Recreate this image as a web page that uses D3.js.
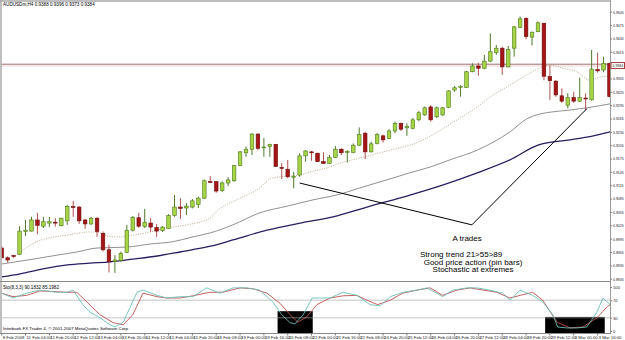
<!DOCTYPE html>
<html><head><meta charset="utf-8">
<script src="https://cdnjs.cloudflare.com/ajax/libs/d3/7.8.5/d3.min.js"></script>
<style>body{margin:0;background:#fff;} svg{display:block;font-family:"Liberation Sans",Arial,sans-serif;}</style>
</head><body><svg id="c" width="625" height="340"></svg>
<script>
// ---------- DATA ----------
const opens  = [0.8974,0.8952,0.8957,0.8960,0.9011,0.9012,0.9037,0.9023,0.9030,0.9032,0.9024,0.9035,0.9067,0.9066,0.9037,0.9028,0.9041,0.9007,0.8970,0.8944,0.8946,0.8964,0.9014,0.9042,0.9022,0.9030,0.9020,0.9013,0.9018,0.9047,0.9066,0.9064,0.9066,0.9072,0.9086,0.9123,0.9123,0.9103,0.9120,0.9125,0.9159,0.9188,0.9196,0.9230,0.9199,0.9202,0.9207,0.9155,0.9151,0.9133,0.9138,0.9181,0.9190,0.9187,0.9168,0.9164,0.9177,0.9196,0.9189,0.9189,0.9205,0.9232,0.9190,0.9209,0.9226,0.9220,0.9237,0.9254,0.9244,0.9243,0.9262,0.9273,0.9291,0.9269,0.9273,0.9290,0.9329,0.9335,0.9335,0.9370,0.9383,0.9378,0.9394,0.9413,0.9423,0.9381,0.9423,0.9470,0.9490,0.9448,0.9460,0.9479,0.9359,0.9349,0.9316,0.9295,0.9312,0.9304,0.9311,0.9307,0.9375,0.9374,0.9389];
const highs  = [0.8979,0.8955,0.8959,0.9023,0.9037,0.9044,0.9053,0.9044,0.9044,0.9041,0.9042,0.9071,0.9080,0.9068,0.9039,0.9044,0.9043,0.9011,0.8981,0.8958,0.8966,0.9026,0.9046,0.9053,0.9062,0.9041,0.9028,0.9023,0.9050,0.9093,0.9086,0.9075,0.9084,0.9089,0.9128,0.9136,0.9124,0.9124,0.9133,0.9160,0.9192,0.9202,0.9232,0.9232,0.9221,0.9208,0.9208,0.9165,0.9172,0.9145,0.9187,0.9194,0.9192,0.9188,0.9189,0.9183,0.9203,0.9198,0.9194,0.9209,0.9245,0.9235,0.9213,0.9232,0.9229,0.9241,0.9258,0.9256,0.9254,0.9266,0.9282,0.9292,0.9295,0.9292,0.9291,0.9329,0.9338,0.9340,0.9372,0.9389,0.9390,0.9408,0.9456,0.9430,0.9426,0.9428,0.9473,0.9494,0.9492,0.9460,0.9483,0.9480,0.9384,0.9351,0.9333,0.9322,0.9325,0.9357,0.9322,0.9419,0.9413,0.9404,0.9390];
const lows   = [0.8947,0.8941,0.8952,0.8958,0.9001,0.9011,0.9005,0.9019,0.9021,0.9022,0.9023,0.9026,0.9044,0.9028,0.9017,0.9026,0.8999,0.8966,0.8919,0.8918,0.8943,0.8963,0.9011,0.9019,0.9019,0.9010,0.8999,0.9010,0.9018,0.9044,0.9039,0.9048,0.9063,0.9064,0.9084,0.9120,0.9098,0.9100,0.9113,0.9123,0.9158,0.9179,0.9183,0.9194,0.9179,0.9179,0.9156,0.9129,0.9131,0.9108,0.9134,0.9168,0.9170,0.9167,0.9163,0.9163,0.9176,0.9183,0.9166,0.9187,0.9203,0.9174,0.9189,0.9207,0.9211,0.9219,0.9232,0.9237,0.9226,0.9241,0.9259,0.9271,0.9258,0.9266,0.9271,0.9289,0.9325,0.9314,0.9334,0.9369,0.9361,0.9376,0.9392,0.9408,0.9363,0.9380,0.9404,0.9468,0.9443,0.9429,0.9459,0.9351,0.9307,0.9314,0.9300,0.9288,0.9300,0.9302,0.9284,0.9305,0.9368,0.9369,0.9313];
const closes = [0.8952,0.8947,0.8955,0.9012,0.9014,0.9037,0.9025,0.9033,0.9033,0.9030,0.9041,0.9067,0.9065,0.9035,0.9028,0.9041,0.9011,0.8970,0.8943,0.8947,0.8962,0.9014,0.9043,0.9023,0.9032,0.9021,0.9012,0.9021,0.9047,0.9066,0.9063,0.9068,0.9080,0.9086,0.9125,0.9122,0.9102,0.9120,0.9127,0.9159,0.9190,0.9196,0.9230,0.9198,0.9201,0.9207,0.9157,0.9153,0.9134,0.9135,0.9181,0.9192,0.9188,0.9168,0.9164,0.9177,0.9196,0.9188,0.9191,0.9205,0.9229,0.9190,0.9208,0.9229,0.9217,0.9237,0.9254,0.9241,0.9247,0.9262,0.9278,0.9289,0.9262,0.9289,0.9289,0.9327,0.9334,0.9337,0.9370,0.9383,0.9378,0.9394,0.9415,0.9423,0.9381,0.9420,0.9471,0.9489,0.9449,0.9459,0.9480,0.9360,0.9350,0.9318,0.9304,0.9312,0.9304,0.9312,0.9309,0.9376,0.9372,0.9389,0.9314];

// moving averages: [bar index, price]
const ma21 = [[1.9,0.8952],[5.9,0.8988],[11.0,0.9003],[14.8,0.9010],[16.5,0.9008],[18.2,0.8999],[19.8,0.8999],[22.0,0.9003],[24.9,0.9010],[27.7,0.9019],[31.1,0.9026],[34.9,0.9041],[36.6,0.9062],[40.0,0.9086],[43.3,0.9109],[45.0,0.9129],[46.7,0.9134],[50.0,0.9138],[51.7,0.9145],[54.6,0.9154],[56.8,0.9165],[60.1,0.9176],[63.5,0.9188],[66.8,0.9199],[68.5,0.9205],[76.9,0.9266],[79.8,0.9291],[81.9,0.9313],[85.3,0.9340],[88.1,0.9363],[90.8,0.9381],[92.0,0.9385],[94.2,0.9378],[96.5,0.9370],[98.7,0.9351],[100.4,0.9358],[102.1,0.9360]];
const ma55 = [[0,0.8938],[5.3,0.8949],[9.3,0.8958],[12.6,0.8965],[16.0,0.8974],[21.0,0.8976],[24.9,0.8983],[28.7,0.8988],[32.1,0.8999],[35.0,0.9008],[38.8,0.9026],[43.3,0.9053],[47.9,0.9068],[52.2,0.9082],[56.8,0.9095],[60.1,0.9109],[64.6,0.9127],[68.5,0.9143],[71.9,0.9156],[75.2,0.9172],[79.8,0.9194],[85.3,0.9235],[88.1,0.9264],[90.3,0.9275],[92.5,0.9280],[95.4,0.9284],[98.2,0.9289],[102.1,0.9298]];
const ma89 = [[0,0.8909],[3.1,0.8916],[6.9,0.8927],[11.0,0.8936],[14.8,0.8940],[18.2,0.8943],[22.0,0.8949],[26.1,0.8956],[29.9,0.8965],[35.0,0.8978],[38.8,0.8992],[44.5,0.9014],[50.1,0.9030],[55.6,0.9044],[61.3,0.9066],[68.5,0.9093],[74.1,0.9116],[79.8,0.9143],[85.3,0.9172],[90.0,0.9205],[95.4,0.9217],[98.2,0.9223],[102.1,0.9235]];

// stochastic (%K main, %D signal): [bar index, value]
const stochK = [[0,86],[1.9,75],[4.2,86],[6.4,93],[9.3,88],[11.0,88],[12.0,93],[13.6,60],[14.8,43],[16.5,30],[18.2,14],[19.0,9],[20.4,20],[22.7,88],[23.7,93],[26.1,81],[27.7,75],[29.9,78],[32.1,78],[34.4,98],[36.6,86],[38.8,98],[41.2,98],[43.3,93],[45.5,66],[47.0,37],[48.4,19],[49.2,16],[50.6,37],[52.1,75],[53.4,75],[55.1,75],[57.3,88],[59.6,81],[61.8,60],[63.5,57],[65.2,78],[67.3,88],[69.7,93],[71.4,98],[74.0,78],[75.7,93],[78.1,98],[79.8,98],[81.9,93],[84.1,86],[85.3,70],[87.0,93],[89.1,81],[90.8,66],[92.5,37],[93.3,9],[94.8,7],[96.5,7],[98.2,9],[99.9,43],[100.9,75],[102.1,60]];
const stochD = [[0,86],[1.9,78],[4.2,81],[6.4,91],[11.0,88],[12.6,88],[14.3,66],[16.5,37],[18.7,19],[20.4,14],[22.0,37],[23.7,86],[26.1,78],[27.7,75],[29.9,75],[32.1,80],[34.9,88],[37.1,88],[40.0,98],[42.2,96],[44.5,86],[46.7,63],[48.4,37],[49.7,20],[51.2,32],[52.9,60],[55.1,75],[57.3,80],[59.6,81],[61.3,70],[63.1,60],[65.2,70],[67.3,86],[69.7,93],[71.9,98],[74.0,81],[76.4,93],[78.6,98],[80.8,93],[83.1,88],[85.3,75],[87.0,81],[89.1,88],[90.8,70],[93.2,20],[95.4,7],[97.5,9],[99.9,30],[101.6,55],[102.4,63]];
const stochLevels = [70, 30];
const stochTicks = [100, 70, 30, 0];

const priceTicks = d3.range(0, 21).map(k => +(0.9505 - 0.003 * k).toFixed(4));
const bidLevels = [0.9387, 0.9383];
const bidLabel = 0.9384;

const dateLabels = ["8 Feb 2008","11 Feb 04:00","11 Feb 20:00","12 Feb 12:00","13 Feb 04:00","13 Feb 20:00","14 Feb 12:00","15 Feb 04:00","15 Feb 20:00","18 Feb 08:00","19 Feb 00:00","19 Feb 16:00","20 Feb 08:00","21 Feb 00:00","21 Feb 16:00","22 Feb 08:00","24 Feb 20:00","25 Feb 12:00","26 Feb 04:00","26 Feb 20:00","27 Feb 12:00","28 Feb 04:00","28 Feb 20:00","29 Feb 12:00","3 Mar 00:00","3 Mar 16:00"];
const dateBars = dateLabels.map((d, k) => 4 * k);

// user drawn trend line: [bar, price]
const trendLine = [[50.0, 0.9120], [78.9, 0.9026], [98.2, 0.9287]];
// user drawn boxes on stochastic: [barFrom, barTo, valueLow, valueHigh]
const stochBoxes = [[46.3, 52.2, -5, 45], [91.2, 101.2, -5, 32]];
// annotation: [text, bar, price]
const notes = [["A trades", 78.1, 0.8990], ["Strong trend 21>55>89", 77.1, 0.8954], ["Good price action (pin bars)", 79.1, 0.8936], ["Stochastic at extremes", 79.1, 0.8919]];

const titleText = "AUDUSDm,H4  0.9388 0.9396 0.9373 0.9384";
const stochTitle = "Sto(8,3,3) 90.1832 85.1982";
const footer = "Interbank FX Trader 4, \u00A9 2001-2007 MetaQuotes Software Corp.";

// ---------- DRAW ----------
const svg = d3.select("#c");
const W = 625, plotR = 610.5;
const xS = d3.scaleLinear().domain([0, 102]).range([1.7, 609.5]);
const yS = d3.scaleLinear().domain([0.8905, 0.9505]).range([278.7, 11.7]);
const sY = d3.scaleLinear().domain([0, 100]).range([331, 287]);

svg.append("rect").attr("width", W).attr("height", 340).attr("fill", "#fff");

const defs = svg.append("defs");
defs.append("clipPath").attr("id", "cm").append("rect").attr("x", 1.5).attr("y", 1.5).attr("width", plotR - 1.5).attr("height", 280);
defs.append("clipPath").attr("id", "cs").append("rect").attr("x", 1.5).attr("y", 282.5).attr("width", plotR - 1.5).attr("height", 50.5);

const gm = svg.append("g").attr("clip-path", "url(#cm)");

// bid / ask lines
gm.selectAll(".bid").data(bidLevels).join("line")
  .attr("x1", 0).attr("x2", plotR).attr("y1", d => yS(d)).attr("y2", d => yS(d))
  .attr("stroke", (d, i) => i === 0 ? "#a36f6f" : "#ecd4d4").attr("stroke-width", 1);

// moving averages
const lineGen = d3.line().x(d => xS(d[0])).y(d => yS(d[1])).curve(d3.curveMonotoneX);
gm.append("path").datum(ma89).attr("d", lineGen).attr("fill", "none").attr("stroke", "#2a1e62").attr("stroke-width", 1.3);
gm.append("path").datum(ma55).attr("d", lineGen).attr("fill", "none").attr("stroke", "#858585").attr("stroke-width", 0.9);
gm.append("path").datum(ma21).attr("d", lineGen).attr("fill", "none").attr("stroke", "#b5a27f").attr("stroke-width", 0.9).attr("stroke-dasharray", "1,1.4");

// candles
const bars = opens.map((o, i) => ({ i, o, h: highs[i], l: lows[i], c: closes[i] }));
const bw = 3.6;
const cg = gm.selectAll(".cd").data(bars).join("g");
cg.append("line")
  .attr("x1", d => xS(d.i)).attr("x2", d => xS(d.i))
  .attr("y1", d => yS(d.h)).attr("y2", d => yS(d.l))
  .attr("stroke", d => d.c >= d.o ? "#4f7a2a" : "#b45050").attr("stroke-width", 1);
cg.append("rect")
  .attr("x", d => xS(d.i) - bw / 2).attr("width", bw)
  .attr("y", d => yS(Math.max(d.o, d.c)))
  .attr("height", d => Math.max(0.9, Math.abs(yS(d.o) - yS(d.c))))
  .attr("fill", d => d.c >= d.o ? "#a6d446" : "#a51616")
  .attr("stroke", d => d.c >= d.o ? "#4e7a1c" : "#6e0c0c").attr("stroke-width", 0.6);

// trend line
gm.append("path").datum(trendLine).attr("d", d3.line().x(d => xS(d[0])).y(d => yS(d[1])))
  .attr("fill", "none").attr("stroke", "#000").attr("stroke-width", 1);

// notes
gm.selectAll(".nt").data(notes).join("text")
  .attr("x", d => xS(d[1])).attr("y", d => yS(d[2]))
  .attr("text-anchor", "middle").attr("font-size", 8).attr("fill", "#000").text(d => d[0]);

// title
svg.append("text").attr("x", 3).attr("y", 6).attr("font-size", 4.6).attr("fill", "#000").text(titleText);

// frames
svg.append("line").attr("x1", 0).attr("x2", plotR).attr("y1", 1).attr("y2", 1).attr("stroke", "#a8a8a8").attr("stroke-width", 1.5);
svg.append("line").attr("x1", 1).attr("x2", 1).attr("y1", 0).attr("y2", 334).attr("stroke", "#a8a8a8").attr("stroke-width", 1.5);
svg.append("line").attr("x1", plotR).attr("x2", plotR).attr("y1", 0).attr("y2", 334).attr("stroke", "#9a9a9a").attr("stroke-width", 1);
svg.append("line").attr("x1", 0).attr("x2", plotR).attr("y1", 281.5).attr("y2", 281.5).attr("stroke", "#8a8a8a").attr("stroke-width", 1);
svg.append("line").attr("x1", 0).attr("x2", plotR).attr("y1", 333.5).attr("y2", 333.5).attr("stroke", "#8a8a8a").attr("stroke-width", 1);

// price axis
const axisText = sel => sel.attr("font-size", 4.2).attr("fill", "#222").attr("font-family", "Liberation Sans, Arial");
const ax = svg.append("g").attr("transform", `translate(${plotR},0)`)
  .call(d3.axisRight(yS).tickValues(priceTicks).tickFormat(d3.format(".4f")).tickSize(1.5).tickPadding(1));
ax.select(".domain").remove();
ax.selectAll("text").call(axisText).attr("textLength", 10.6).attr("lengthAdjust", "spacingAndGlyphs");
ax.selectAll("line").attr("stroke", "#777");

// bid label box
const bl = svg.append("g").attr("transform", `translate(${plotR},${yS(bidLabel)})`);
bl.append("rect").attr("x", 0.5).attr("y", -3).attr("width", 13.5).attr("height", 6).attr("fill", "#fff").attr("stroke", "#a33c3c").attr("stroke-width", 1);
bl.append("text").attr("x", 2).attr("y", 1.5).call(axisText).attr("textLength", 10.6).attr("lengthAdjust", "spacingAndGlyphs").text(d3.format(".4f")(bidLabel));

// stochastic panel
const gs = svg.append("g").attr("clip-path", "url(#cs)");
gs.selectAll(".lv").data(stochLevels).join("line")
  .attr("x1", 0).attr("x2", plotR).attr("y1", d => sY(d)).attr("y2", d => sY(d))
  .attr("stroke", "#cfcfcf").attr("stroke-width", 1);
gs.selectAll(".bx").data(stochBoxes).join("rect")
  .attr("x", d => xS(d[0])).attr("width", d => xS(d[1]) - xS(d[0]))
  .attr("y", d => sY(d[3])).attr("height", d => sY(d[2]) - sY(d[3]))
  .attr("fill", "#000");
gs.selectAll(".lv2").data(stochLevels).join("line")
  .attr("x1", 0).attr("x2", plotR).attr("y1", d => sY(d)).attr("y2", d => sY(d))
  .attr("stroke", "#cfcfcf").attr("stroke-opacity", 0.5).attr("stroke-width", 1);
const sLine = d3.line().x(d => xS(d[0])).y(d => sY(d[1]));
gs.append("path").datum(stochD).attr("d", sLine).attr("fill", "none").attr("stroke", "#c0504d").attr("stroke-width", 0.9);
gs.append("path").datum(stochK).attr("d", sLine).attr("fill", "none").attr("stroke", "#6cc0b8").attr("stroke-width", 0.9);

svg.append("text").attr("x", 3).attr("y", 289).attr("font-size", 4.6).attr("fill", "#000").text(stochTitle);
svg.append("text").attr("x", 3).attr("y", 330).attr("font-size", 4.4).attr("fill", "#000").text(footer);

const sax = svg.append("g").attr("transform", `translate(${plotR},0)`)
  .call(d3.axisRight(sY).tickValues(stochTicks).tickFormat(d3.format("d")).tickSize(1.5).tickPadding(1));
sax.select(".domain").remove();
sax.selectAll("text").call(axisText);
sax.selectAll("line").attr("stroke", "#777");

// date axis
const dg = svg.append("g");
dg.selectAll("line").data(dateBars).join("line")
  .attr("x1", d => xS(d)).attr("x2", d => xS(d)).attr("y1", 333.5).attr("y2", 335.5).attr("stroke", "#777");
dg.selectAll("text").data(dateLabels).join("text")
  .attr("x", (d, k) => Math.max(1.5, xS(dateBars[k]) + 1)).attr("y", 338.5)
  .attr("font-size", 4.3).attr("fill", "#222").text(d => d);
</script></body></html>
